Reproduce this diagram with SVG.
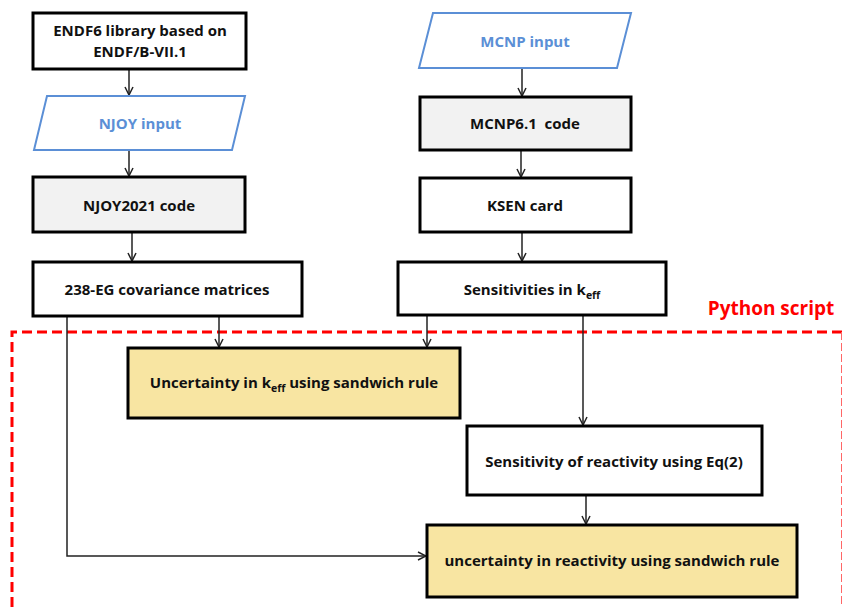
<svg xmlns="http://www.w3.org/2000/svg" width="843" height="607" viewBox="0 0 843 607">
<style>
.box{stroke:#000;stroke-width:3;fill:#fff}
.grey{fill:#f2f2f2}
.yel{fill:#f8e5a2}
.io{fill:#fff;stroke:#5b8fd6;stroke-width:2}
.t{font-family:"Open Sans","Liberation Sans",sans-serif;font-weight:bold;font-size:15px;fill:#111;text-anchor:middle;white-space:pre}
.bl{fill:#5b8fd6}
.sub{font-size:10.5px}
.c{fill:none;stroke:#222;stroke-width:1.5}
</style>
<defs>
<marker id="ah" viewBox="0 0 10 10" refX="9" refY="5" markerWidth="10" markerHeight="10" markerUnits="userSpaceOnUse" orient="auto">
<polyline points="1,1 9,5 1,9" fill="none" stroke="#222" stroke-width="1.5"/>
</marker>
</defs>
<g id="python-script">
<path d="M12,607 V332 H843" fill="none" stroke="#ff0000" stroke-width="3" stroke-dasharray="10,5"/>
<path d="M841.5,332 V607" fill="none" stroke="#ff6666" stroke-width="1" stroke-dasharray="8,3"/>
<text x="771" y="315" font-family="Open Sans, Liberation Sans, sans-serif" font-weight="bold" font-size="19" fill="#ff0000" text-anchor="middle">Python script</text>
</g>
<g id="connectors">
<line class="c" x1="129" y1="69" x2="129" y2="95" marker-end="url(#ah)"/>
<line class="c" x1="129" y1="150" x2="129" y2="176" marker-end="url(#ah)"/>
<line class="c" x1="132" y1="232" x2="132" y2="261" marker-end="url(#ah)"/>
<line class="c" x1="522" y1="68" x2="522" y2="96" marker-end="url(#ah)"/>
<line class="c" x1="521" y1="150" x2="521" y2="177" marker-end="url(#ah)"/>
<line class="c" x1="522" y1="232" x2="522" y2="261" marker-end="url(#ah)"/>
<line class="c" x1="219" y1="316" x2="219" y2="347" marker-end="url(#ah)"/>
<line class="c" x1="427" y1="315" x2="427" y2="347" marker-end="url(#ah)"/>
<line class="c" x1="583" y1="315" x2="583" y2="425" marker-end="url(#ah)"/>
<line class="c" x1="586" y1="495" x2="586" y2="524" marker-end="url(#ah)"/>
<polyline class="c" points="67,316 67,556 426,556" marker-end="url(#ah)"/>
</g>
<g id="endf6">
<rect class="box" x="33" y="13" width="213" height="56"/>
<text class="t" x="140" y="36">ENDF6 library based on</text>
<text class="t" x="140" y="57">ENDF/B-VII.1</text>
</g>
<g id="njoy-input">
<polygon class="io" points="47,96 245,96 232,150 34,150"/>
<text class="t bl" x="140" y="129">NJOY input</text>
</g>
<g id="njoy2021">
<rect class="box grey" x="33" y="177" width="212" height="55"/>
<text class="t" x="139" y="211">NJOY2021 code</text>
</g>
<g id="covariance">
<rect class="box" x="33" y="262" width="269" height="54"/>
<text class="t" x="167" y="295">238-EG covariance matrices</text>
</g>
<g id="mcnp-input">
<polygon class="io" points="433,13 631,13 617,68 419,68"/>
<text class="t bl" x="525" y="47">MCNP input</text>
</g>
<g id="mcnp61">
<rect class="box grey" x="420" y="97" width="211" height="53"/>
<text class="t" x="525" y="129">MCNP6.1  code</text>
</g>
<g id="ksen">
<rect class="box" x="420" y="178" width="211" height="54"/>
<text class="t" x="525" y="211">KSEN card</text>
</g>
<g id="sensitivities">
<rect class="box" x="398" y="262" width="268" height="53"/>
<text class="t" x="532" y="295">Sensitivities in k<tspan class="sub" dy="4">eff</tspan></text>
</g>
<g id="unc-keff">
<rect class="box yel" x="128" y="348" width="332" height="70"/>
<text class="t" x="294" y="388">Uncertainty in k<tspan class="sub" dy="4">eff</tspan><tspan dy="-4"> using sandwich rule</tspan></text>
</g>
<g id="sens-reactivity">
<rect class="box" x="467" y="426" width="295" height="69"/>
<text class="t" x="614" y="467">Sensitivity of reactivity using Eq(2)</text>
</g>
<g id="unc-reactivity">
<rect class="box yel" x="427" y="525" width="370" height="72"/>
<text class="t" x="612" y="566">uncertainty in reactivity using sandwich rule</text>
</g>
</svg>
